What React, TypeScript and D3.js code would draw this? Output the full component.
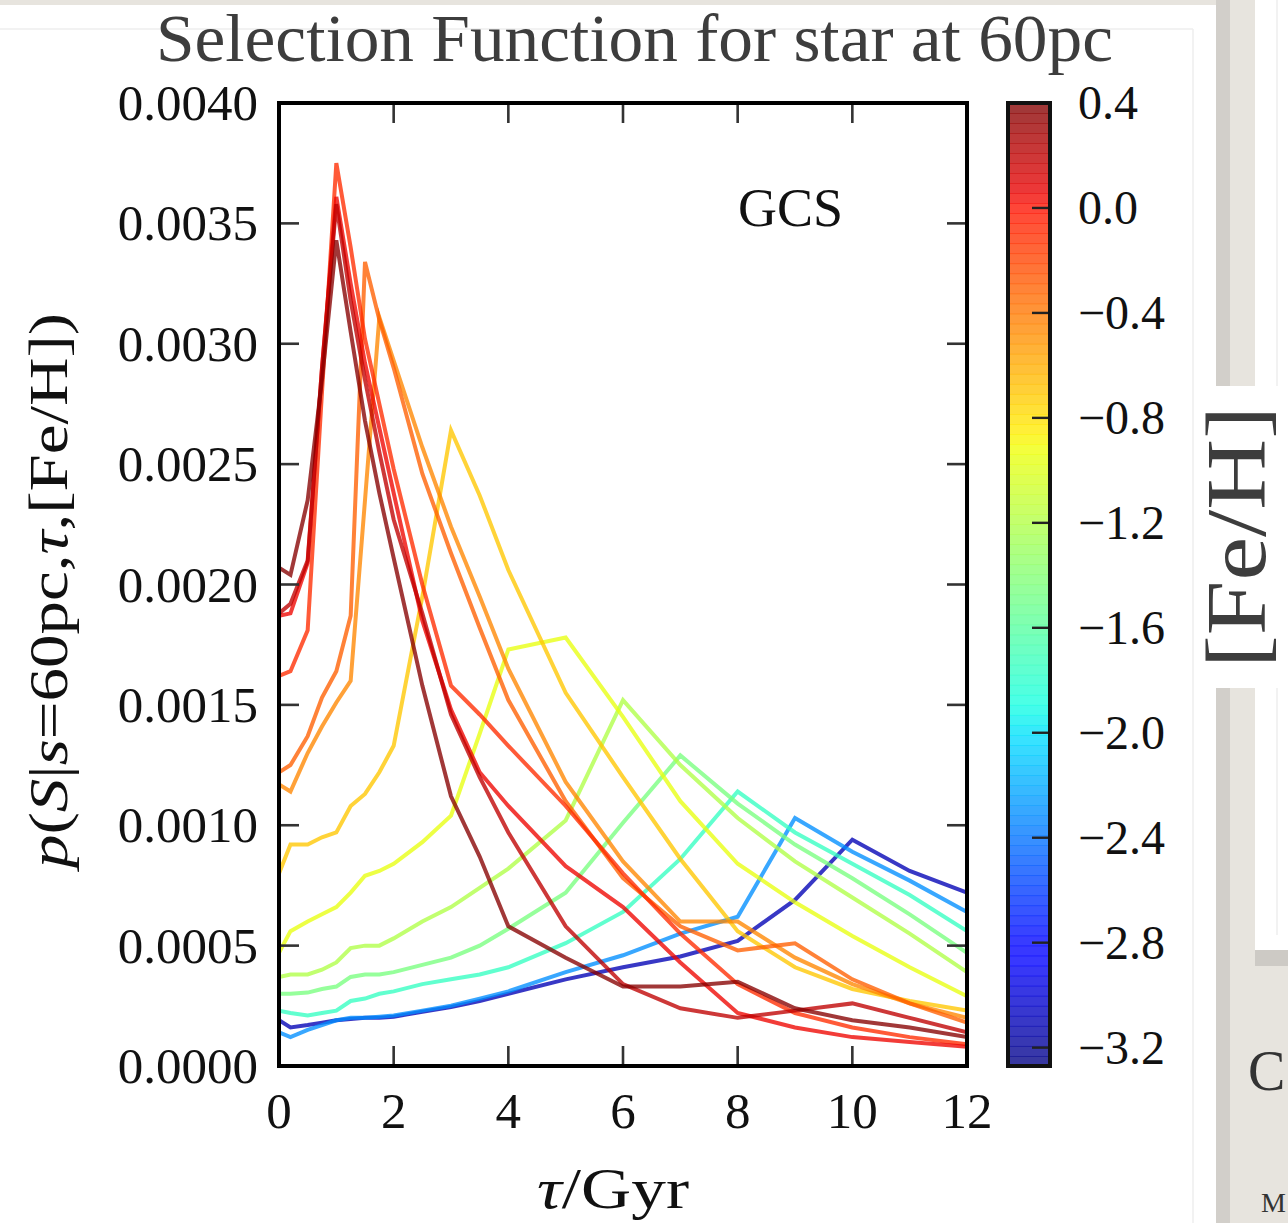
import React from 'react';
import * as d3 from 'd3';

// age grid (Gyr) shared by every curve
const ages = [0, 0.2, 0.5, 0.75, 1, 1.25, 1.5, 1.75, 2, 2.5, 3, 3.5, 4, 5, 6, 7, 8, 9, 10, 11, 12];

// selection function p(S|s=60pc, tau, [Fe/H]) for each metallicity
const fehM31 = [0.00019, 0.00016, 0.00017, 0.00018, 0.00019, 0.000195, 0.0002, 0.0002, 0.000205, 0.000225, 0.000245, 0.00027, 0.0003, 0.00036, 0.00041, 0.000455, 0.00052, 0.00069, 0.00094, 0.00081, 0.00072];
const fehM23 = [0.00014, 0.00012, 0.00015, 0.00017, 0.00019, 0.0002, 0.0002, 0.000205, 0.00021, 0.00023, 0.00025, 0.00028, 0.00031, 0.00039, 0.00046, 0.00055, 0.00062, 0.00103, 0.00089, 0.00077, 0.00064];
const fehM175 = [0.00023, 0.00022, 0.00021, 0.00022, 0.00023, 0.00027, 0.00028, 0.0003, 0.00031, 0.00034, 0.00036, 0.00038, 0.00041, 0.00051, 0.00064, 0.00086, 0.00114, 0.00097, 0.00084, 0.00071, 0.00056];
const fehM145 = [0.0003, 0.00030, 0.000305, 0.00032, 0.00033, 0.00037, 0.00038, 0.00038, 0.00039, 0.00042, 0.00045, 0.0005, 0.00057, 0.00072, 0.00101, 0.00129, 0.00109, 0.00092, 0.00078, 0.00063, 0.00047];
const fehM12 = [0.00037, 0.00038, 0.00038, 0.0004, 0.00043, 0.00049, 0.0005, 0.0005, 0.00053, 0.0006, 0.00066, 0.00074, 0.00082, 0.00102, 0.00152, 0.00125, 0.00103, 0.00085, 0.0007, 0.00055, 0.00039];
const fehM095 = [0.00047, 0.00056, 0.0006, 0.00063, 0.00066, 0.00072, 0.00079, 0.00081, 0.00084, 0.00093, 0.00104, 0.00138, 0.00173, 0.00178, 0.00145, 0.0011, 0.00084, 0.00068, 0.00054, 0.00041, 0.00029];
const fehM07 = [0.0008, 0.00092, 0.00092, 0.00095, 0.00097, 0.00108, 0.00113, 0.00122, 0.00133, 0.00195, 0.00264, 0.00237, 0.00206, 0.00155, 0.0012, 0.00086, 0.00056, 0.00041, 0.00032, 0.00027, 0.00023];
const fehM045 = [0.00117, 0.00114, 0.0013, 0.00141, 0.00151, 0.0016, 0.00235, 0.00311, 0.00293, 0.00257, 0.00224, 0.00195, 0.00165, 0.00118, 0.00085, 0.0006, 0.0006, 0.00045, 0.00034, 0.00026, 0.0002];
const fehM03 = [0.00122, 0.00125, 0.00137, 0.00153, 0.00164, 0.00187, 0.00334, 0.0031, 0.0029, 0.00246, 0.00213, 0.00182, 0.00152, 0.0011, 0.00078, 0.00058, 0.00048, 0.00051, 0.00036, 0.00026, 0.00018];
const fehM01 = [0.00162, 0.00164, 0.00181, 0.0028, 0.00375, 0.0034, 0.00302, 0.00275, 0.00248, 0.002, 0.00158, 0.00146, 0.00133, 0.00108, 0.0008, 0.00055, 0.00034, 0.00022, 0.00016, 0.00012, 0.00009];
const fehP005 = [0.00187, 0.00188, 0.00209, 0.0029, 0.00361, 0.00325, 0.00292, 0.00265, 0.00238, 0.00185, 0.00148, 0.00122, 0.00108, 0.00083, 0.00066, 0.00043, 0.00022, 0.00016, 0.00012, 0.0001, 0.00008];
const fehP02 = [0.00188, 0.00192, 0.0021, 0.0029, 0.00358, 0.00318, 0.00285, 0.00255, 0.00227, 0.00188, 0.00146, 0.0012, 0.00097, 0.00058, 0.00034, 0.00024, 0.0002, 0.00023, 0.00026, 0.0002, 0.00014];
const fehP038 = [0.00207, 0.00204, 0.00235, 0.00285, 0.00343, 0.00305, 0.00268, 0.00238, 0.00211, 0.00158, 0.00112, 0.00087, 0.00058, 0.00045, 0.00033, 0.00033, 0.00035, 0.00024, 0.00019, 0.00016, 0.00012];

const fehLevels = [-3.1, -2.3, -1.75, -1.45, -1.2, -0.95, -0.7, -0.45, -0.3, -0.1, 0.05, 0.2, 0.38];
const fehCurves = [fehM31, fehM23, fehM175, fehM145, fehM12, fehM095, fehM07, fehM045, fehM03, fehM01, fehP005, fehP02, fehP038];

// axis ticks
const xTicks = [0, 2, 4, 6, 8, 10, 12];
const yTicks = [0, 0.0005, 0.001, 0.0015, 0.002, 0.0025, 0.003, 0.0035, 0.004];
const cbTicks = [0.4, 0.0, -0.4, -0.8, -1.2, -1.6, -2.0, -2.4, -2.8, -3.2];
const cbDomain = [-3.27, 0.4];

const W = 1288;
const H = 1223;
const plot = { left: 279, right: 967, top: 103, bottom: 1066 };
const cb = { left: 1008, right: 1050 };
const serif = '"Liberation Serif", "DejaVu Serif", serif';

// matplotlib "jet" colormap
const jetR = d3.scaleLinear().domain([0, 0.35, 0.66, 0.89, 1]).range([0, 0, 1, 1, 0.5]).clamp(true);
const jetG = d3.scaleLinear().domain([0, 0.125, 0.375, 0.64, 0.91, 1]).range([0, 0, 1, 1, 0, 0]).clamp(true);
const jetB = d3.scaleLinear().domain([0, 0.11, 0.34, 0.65, 1]).range([0.5, 1, 1, 0, 0]).clamp(true);
const jet = (v: number) => {
  const t = (v - cbDomain[0]) / (cbDomain[1] - cbDomain[0]);
  return d3.rgb(jetR(t) * 255, jetG(t) * 255, jetB(t) * 255).formatHex();
};

const fmtY = d3.format('.4f');
const fmtCb = (v: number) => (v < 0 ? '\u2212' : '') + Math.abs(v).toFixed(1);

export default function App() {
  const x = d3.scaleLinear().domain([0, 12]).range([plot.left, plot.right]);
  const y = d3.scaleLinear().domain([0, 0.004]).range([plot.bottom, plot.top]);
  const cbY = d3.scaleLinear().domain(cbDomain).range([plot.bottom, plot.top]);
  const line = d3.line<number>().x((_, i) => x(ages[i])).y(d => y(d));

  const nBands = 96;
  const bands = d3.range(nBands).map(i => cbDomain[0] + (i + 0.5) * (cbDomain[1] - cbDomain[0]) / nBands);
  const bandH = (plot.bottom - plot.top) / nBands;

  const tickLen = 20;

  return (
    <svg width={W} height={H} style={{ position: 'absolute', left: 0, top: 0, display: 'block' }}>
      {/* slide background */}
      <rect x={0} y={0} width={W} height={H} fill="#e7e4de" />
      <rect x={1216} y={0} width={14} height={H} fill="#d2cfca" />
      <rect x={0} y={5} width={1216} height={H} fill="#ffffff" />
      <rect x={1255} y={0} width={33} height={966} fill="#cdcac5" />
      <rect x={1255} y={0} width={33} height={950} fill="#ffffff" />
      <line x1={1277} y1={0} x2={1277} y2={935} stroke="#eeeeee" strokeWidth={1.5} />
      <line x1={0} y1={29} x2={1193} y2={29} stroke="#eeeeee" strokeWidth={1.5} />
      <line x1={1193} y1={29} x2={1193} y2={H} stroke="#eeeeee" strokeWidth={1.5} />
      <rect x={1195} y={386} width={93} height={302} fill="#ffffff" />
      <text x={1248} y={1090} fontFamily={serif} fontSize={56} fill="#333">C</text>
      <text x={1261} y={1212} fontFamily={serif} fontSize={28} fill="#333">M</text>

      {/* title */}
      <text x={156} y={61} fontFamily={serif} fontSize={67} fill="#3d3d3d" textLength={957} lengthAdjust="spacingAndGlyphs">
        Selection Function for star at 60pc
      </text>

      {/* curves */}
      <defs>
        <clipPath id="plotclip">
          <rect x={plot.left} y={plot.top} width={plot.right - plot.left} height={plot.bottom - plot.top} />
        </clipPath>
      </defs>
      <g clipPath="url(#plotclip)">
        {fehCurves.map((vals, k) => (
          <path key={k} d={line(vals) ?? ''} fill="none" stroke={jet(fehLevels[k])} strokeOpacity={0.78}
            strokeWidth={4} strokeLinejoin="miter" strokeMiterlimit={6} />
        ))}
      </g>

      {/* ticks */}
      {xTicks.map(t => (
        <g key={'x' + t}>
          <line x1={x(t)} x2={x(t)} y1={plot.bottom} y2={plot.bottom - tickLen} stroke="#333" strokeWidth={2.6} />
          <line x1={x(t)} x2={x(t)} y1={plot.top} y2={plot.top + tickLen} stroke="#333" strokeWidth={2.6} />
          <text x={x(t)} y={1128} textAnchor="middle" fontFamily={serif} fontSize={51} fill="#111">{t}</text>
        </g>
      ))}
      {yTicks.map(t => (
        <g key={'y' + t}>
          <line x1={plot.left} x2={plot.left + tickLen} y1={y(t)} y2={y(t)} stroke="#333" strokeWidth={2.6} />
          <line x1={plot.right} x2={plot.right - tickLen} y1={y(t)} y2={y(t)} stroke="#333" strokeWidth={2.6} />
          <text x={258} y={y(t) + 17} textAnchor="end" fontFamily={serif} fontSize={51} fill="#111">{fmtY(t)}</text>
        </g>
      ))}
      <rect x={plot.left} y={plot.top} width={plot.right - plot.left} height={plot.bottom - plot.top}
        fill="none" stroke="#000" strokeWidth={4} />

      <text x={843} y={226} textAnchor="end" fontFamily={serif} fontSize={54} fill="#111">GCS</text>

      {/* axis labels */}
      <text x={613} y={1208} textAnchor="middle" fontFamily={serif} fontSize={58} fill="#111"
        textLength={152} lengthAdjust="spacingAndGlyphs">
        <tspan fontStyle="italic">τ</tspan>/Gyr
      </text>
      <text transform={`translate(67, ${(plot.top + plot.bottom) / 2 + 6}) rotate(-90)`} textAnchor="middle"
        fontFamily={serif} fontSize={54} fill="#111" textLength={555} lengthAdjust="spacingAndGlyphs">
        <tspan fontStyle="italic">p</tspan>(<tspan fontStyle="italic">S</tspan>|<tspan fontStyle="italic">s</tspan>
        {'=60pc,'}<tspan fontStyle="italic">τ</tspan>,[Fe/H])
      </text>

      {/* colorbar */}
      {bands.map((v, i) => (
        <rect key={i} x={cb.left} y={plot.bottom - (i + 1) * bandH} width={cb.right - cb.left} height={bandH + 0.6}
          fill={jet(v)} fillOpacity={0.78} />
      ))}
      {cbTicks.map(t => (
        <g key={'c' + t}>
          <line x1={cb.right} x2={cb.right - 18} y1={cbY(t)} y2={cbY(t)} stroke="#222" strokeWidth={2.4} />
          <text x={1078} y={cbY(t) + 16} fontFamily={serif} fontSize={48} fill="#111">{fmtCb(t)}</text>
        </g>
      ))}
      <rect x={cb.left} y={plot.top} width={cb.right - cb.left} height={plot.bottom - plot.top}
        fill="none" stroke="#111" strokeWidth={4} />

      <text transform="translate(1265, 537) rotate(-90)" textAnchor="middle" fontFamily={serif} fontSize={84}
        fill="#3d3d3d" textLength={262} lengthAdjust="spacingAndGlyphs">[Fe/H]</text>
    </svg>
  );
}
